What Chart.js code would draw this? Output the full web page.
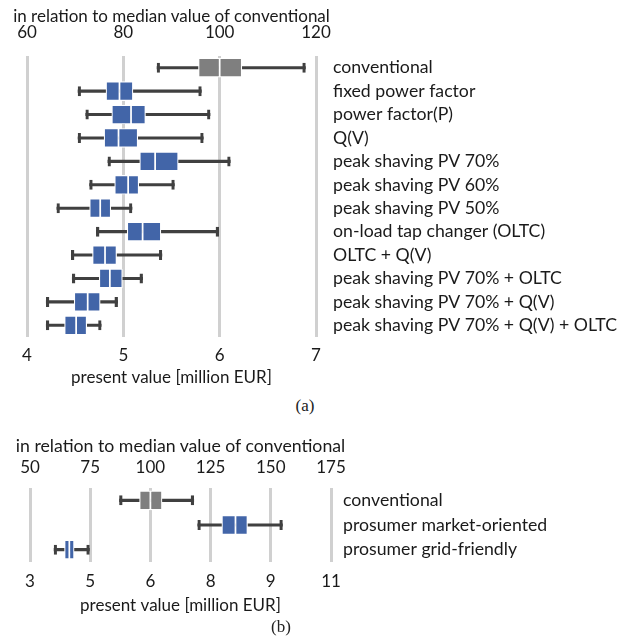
<!DOCTYPE html>
<html>
<head>
<meta charset="utf-8">
<script src="https://cdn.jsdelivr.net/npm/chart.js@4"></script>
<style>
  body { margin: 0; background: #fff; width: 630px; height: 641px; position: relative; overflow: hidden; }
  canvas { position: absolute; left: 0; }
  #ca { top: 0; }
  #cb { top: 425px; }
  .cap { position: absolute; font-family: "Liberation Serif", serif; font-size: 17px; color: #222; transform: translate(-50%, -50%); }
  .ttl { position: absolute; font-family: Lato, sans-serif; color: #1a1a1a; white-space: nowrap; transform: translate(-50%, -50%); }
</style>
</head>
<body>
<canvas id="ca" width="630" height="392"></canvas>
<canvas id="cb" width="630" height="195"></canvas>
<div class="ttl" style="left:171.5px; top:15px; font-size:17px;">in relation to median value of conventional</div>
<div class="ttl" style="left:180.5px; top:445px; font-size:17.7px;">in relation to median value of conventional</div>
<div class="cap" style="left:305px; top:406px;">(a)</div>
<div class="cap" style="left:281px; top:627px;">(b)</div>
<script>
// (a) present value per strategy, million EUR
const labelsA = ["conventional", "fixed power factor", "power factor(P)", "Q(V)",
    "peak shaving PV 70%", "peak shaving PV 60%", "peak shaving PV 50%",
    "on-load tap changer (OLTC)", "OLTC + Q(V)", "peak shaving PV 70% + OLTC",
    "peak shaving PV 70% + Q(V)", "peak shaving PV 70% + Q(V) + OLTC"];
const minA = [5.35, 4.53, 4.61, 4.53, 4.84, 4.65, 4.31, 4.72, 4.46, 4.47, 4.20, 4.20];
const q1A  = [5.78, 4.82, 4.88, 4.80, 5.17, 4.91, 4.65, 5.04, 4.68, 4.75, 4.49, 4.39];
const medA = [6.00, 4.96, 5.08, 4.95, 5.33, 5.05, 4.76, 5.20, 4.81, 4.86, 4.63, 4.51];
const q3A  = [6.23, 5.10, 5.23, 5.15, 5.57, 5.16, 4.87, 5.39, 4.93, 4.99, 4.76, 4.62];
const maxA = [6.89, 5.81, 5.90, 5.83, 6.11, 5.53, 5.09, 5.99, 5.40, 5.20, 4.94, 4.77];
const bottomTicksA = ["4", "5", "6", "7"];
const topTicksA = ["60", "80", "100", "120"];

// (b) present value per market scenario, million EUR
const labelsB = ["conventional", "prosumer market-oriented", "prosumer grid-friendly"];
const minB = [5.23, 7.18, 3.60];
const q1B  = [5.73, 7.78, 3.86];
const medB = [6.00, 8.12, 3.98];
const q3B  = [6.29, 8.42, 4.10];
const maxB = [7.08, 9.29, 4.48];
const bottomTicksB = ["3", "5", "6", "8", "9", "11"];
const topTicksB = ["50", "75", "100", "125", "150", "175"];

const FONT = "Lato";
const ink = "#1a1a1a";
const whisk = "#404040";
const boxFill = ctx => ctx.dataIndex === 0 ? "#7f7f7f" : "#4265a8";

function boxChart(id, o) {
    const range = o.min.map((v, i) => [v, o.max[i]]);
    return new Chart(document.getElementById(id), {
        type: "bar",
        data: {
            labels: o.labels,
            datasets: [
                { data: range, barThickness: 10, backgroundColor: "rgba(0,0,0,0)", borderColor: whisk,
                  borderWidth: { left: 2.5, right: 2.5, top: 0, bottom: 0 }, borderSkipped: false, order: 4 },
                { data: range, barThickness: 2.5, backgroundColor: whisk, order: 3 },
                { data: o.q1.map((v, i) => [v, o.med[i]]), barThickness: o.box, backgroundColor: boxFill,
                  borderColor: "#fff", borderWidth: 1.2, borderSkipped: false, order: 2 },
                { data: o.med.map((v, i) => [v, o.q3[i]]), barThickness: o.box, backgroundColor: boxFill,
                  borderColor: "#fff", borderWidth: 1.2, borderSkipped: false, order: 1 }
            ]
        },
        options: {
            responsive: false,
            animation: false,
            indexAxis: "y",
            layout: { padding: { left: o.left, right: 0, top: 0, bottom: 0 } },
            datasets: { bar: { grouped: false } },
            plugins: { legend: { display: false }, tooltip: { enabled: false } },
            scales: {
                x: {
                    type: "linear", position: "bottom", min: o.xMin, max: o.xMax,
                    ticks: { stepSize: o.xStep, callback: (v, i) => o.bottomTicks[i], color: ink,
                             font: { family: FONT, size: 17 }, padding: o.botPad },
                    grid: { color: "#d0d0d0", lineWidth: 3, drawTicks: false },
                    border: { display: false },
                    title: { display: true, text: "present value [million EUR]", color: ink,
                             font: { family: FONT, size: 17 }, padding: { top: 0, bottom: 4 } },
                    afterFit: s => { s.height = o.botH; }
                },
                x2: {
                    type: "linear", position: "top", min: o.tMin, max: o.tMax,
                    ticks: { stepSize: o.tStep, callback: (v, i) => o.topTicks[i], color: ink,
                             font: { family: FONT, size: 17 }, padding: o.topPad },
                    grid: { display: false, drawTicks: false },
                    border: { display: false },
                    afterFit: s => { s.height = o.topH; }
                },
                y: {
                    type: "category", position: "right",
                    grid: { display: false, drawTicks: false },
                    border: { display: false },
                    ticks: { color: ink, font: { family: FONT, size: 17.7 }, padding: o.labelPad, autoSkip: false },
                    afterFit: s => { s.width = o.rightW; }
                }
            }
        }
    });
}

boxChart("ca", {
    labels: labelsA, min: minA, q1: q1A, med: medA, q3: q3A, max: maxA,
    bottomTicks: bottomTicksA, topTicks: topTicksA,
    xMin: 4, xMax: 7, xStep: 1, tMin: 60, tMax: 120, tStep: 20,
    box: 19, left: 27, rightW: 314, labelPad: 17,
    topH: 56, topPad: 13, botH: 55, botPad: 8
});

boxChart("cb", {
    labels: labelsB, min: minB, q1: q1B, med: medB, q3: q3B, max: maxB,
    bottomTicks: bottomTicksB, topTicks: topTicksB,
    xMin: 3, xMax: 10.5, xStep: 1.5, tMin: 50, tMax: 175, tStep: 25,
    box: 19, left: 30, rightW: 299, labelPad: 12,
    topH: 63, topPad: 10, botH: 58, botPad: 9.5
});
</script>
</body>
</html>
